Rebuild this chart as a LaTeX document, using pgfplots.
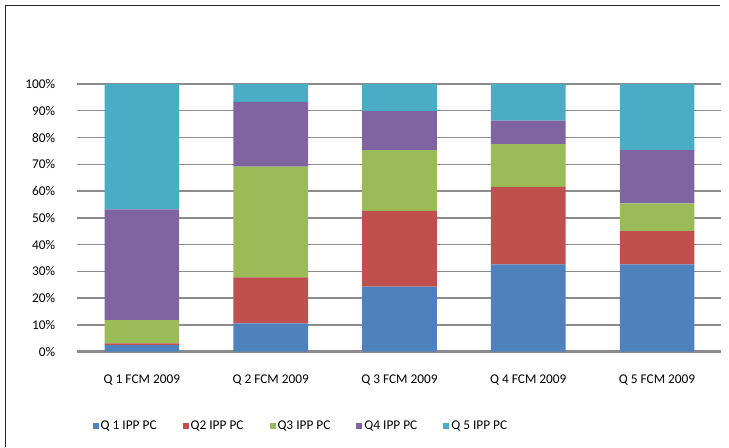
\documentclass[border=0pt]{standalone}
\usepackage{pgfplots}
\pgfplotsset{compat=1.18}
\usepackage{fontspec}
\setmainfont{Carlito}
\definecolor{c1}{HTML}{4F81BD}
\definecolor{c2}{HTML}{C0504D}
\definecolor{c3}{HTML}{9BBB59}
\definecolor{c4}{HTML}{8064A2}
\definecolor{c5}{HTML}{4BACC6}
\definecolor{gridc}{HTML}{8C8C8C}
\begin{document}
\fontsize{10}{12}\selectfont
\begin{tikzpicture}
\useasboundingbox[fill=white] (0pt,0pt) rectangle (546.75pt,335.25pt);
\draw[line width=1.1pt, black!85] (4.1pt,0pt) -- (4.1pt,331.1pt) -- (540pt,331.1pt);
\begin{axis}[
  at={(58.125pt,71.475pt)}, anchor=south west,
  scale only axis, width=483pt, height=200.8pt,
  ybar stacked, bar width=56pt,
  xmin=-0.5, xmax=4.5, ymin=0, ymax=100,
  xtick={0,1,2,3,4},
  xticklabels={Q 1 FCM 2009, Q 2 FCM 2009, Q 3 FCM 2009, Q 4 FCM 2009, Q 5 FCM 2009},
  ytick={10,20,...,100},
  yticklabel={\pgfmathparse{int(\tick)}\pgfmathresult\%},
  extra y ticks={0},
  extra y tick labels={0\%},
  extra y tick style={grid style={line width=2.3pt, gridc}},
  axis line style={draw=none},
  major tick length=0pt,
  ymajorgrids,
  grid style={line width=1.1pt, gridc},
  yticklabel style={anchor=east, inner sep=0pt, xshift=-16.5pt, font=\fontsize{10}{12}\selectfont},
  xticklabel style={anchor=north, inner sep=0pt, yshift=-17.5pt, font=\fontsize{10}{12}\selectfont},
  legend style={at={(0.347,-0.2775)}, anchor=center, draw=none, legend columns=5,
    font=\fontsize{10}{12}\selectfont,
    /tikz/every even column/.append style={column sep=18pt},
    nodes={inner sep=1.5pt}},
  legend image code/.code={\fill[#1] (0pt,-2.2pt) rectangle (4.5pt,2.2pt);},
]
\addplot[fill=c1, draw=none] coordinates {(0,2.5) (1,10.6) (2,24.3) (3,32.6) (4,32.6)};
\addplot[fill=c2, draw=none] coordinates {(0,0.6) (1,17.2) (2,28.3) (3,29.0) (4,12.4)};
\addplot[fill=c3, draw=none] coordinates {(0,8.7) (1,41.3) (2,22.7) (3,15.9) (4,10.4)};
\addplot[fill=c4, draw=none] coordinates {(0,41.4) (1,24.2) (2,14.6) (3,8.8) (4,19.9)};
\addplot[fill=c5, draw=none] coordinates {(0,46.8) (1,6.7) (2,10.1) (3,13.7) (4,24.7)};
\legend{Q 1 IPP PC, Q2 IPP PC, Q3 IPP PC, Q4 IPP PC, Q 5 IPP PC}
\end{axis}
\end{tikzpicture}
\end{document}
